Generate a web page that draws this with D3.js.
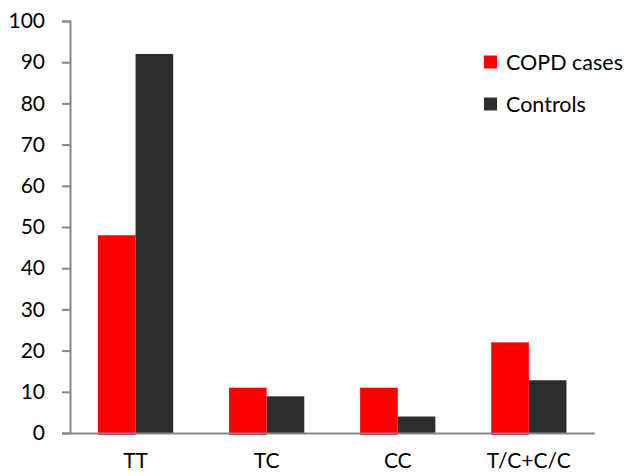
<!DOCTYPE html>
<html><head><meta charset="utf-8">
<script src="https://cdn.jsdelivr.net/npm/d3@7"></script>
<style>body{margin:0;background:#fff}svg{display:block}text{font-family:Lato,"Open Sans",sans-serif}</style>
</head><body>
<script>
const categories = ["TT", "TC", "CC", "T/C+C/C"];
const seriesNames = ["COPD cases", "Controls"];
const copdCases = [48, 11, 11, 22];
const controls = [92, 8.9, 4, 12.8];
const yTicks = [0, 10, 20, 30, 40, 50, 60, 70, 80, 90, 100];
const colors = ["#ff0000", "#2d2d2d"];

const W = 630, H = 476;
const svg = d3.select("body").append("svg").attr("width", W).attr("height", H);
const x0 = d3.scaleBand().domain(categories).range([70, 594.4]).paddingInner(0.426).paddingOuter(0.213);
const x1 = d3.scaleBand().domain(seriesNames).range([0, x0.bandwidth()]);
const y = d3.scaleLinear().domain([0, 100]).range([433, 21]);
const series = [copdCases, controls];

// bars
seriesNames.forEach((s, si) => {
  svg.append("g").selectAll("rect").data(categories).join("rect")
    .attr("x", (c) => x0(c) + x1(s))
    .attr("width", x1.bandwidth())
    .attr("y", (c, i) => y(series[si][i]))
    .attr("height", (c, i) => y(0) - y(series[si][i]) + (si === 0 ? 2 : 0))
    .attr("fill", colors[si]);
});

// y axis
const yAxis = d3.axisLeft(y).tickValues(yTicks).tickSize(8).tickPadding(17);
const gy = svg.append("g").attr("transform", "translate(70,0)").call(yAxis);
gy.select(".domain").attr("stroke", "#868686").attr("stroke-width", 2);
gy.selectAll(".tick line").attr("stroke", "#868686").attr("stroke-width", 2);
gy.selectAll(".tick text").attr("font-size", 21).attr("fill", "#000").attr("font-family", "Lato");

// x axis
const xAxis = d3.axisBottom(x0).tickSize(0).tickPadding(20);
const gx = svg.append("g").attr("transform", "translate(0,433)").call(xAxis);
gx.select(".domain").attr("stroke", "#868686").attr("stroke-width", 2);
gx.selectAll(".tick text").attr("font-size", 21).attr("fill", "#000").attr("font-family", "Lato");

// legend
const lg = svg.append("g");
seriesNames.forEach((s, i) => {
  const yy = 62 + i * 42;
  lg.append("rect").attr("x", 484).attr("y", yy - 6.5).attr("width", 13).attr("height", 13).attr("fill", colors[i]);
  lg.append("text").attr("x", 506).attr("y", yy).attr("dy", "0.35em").attr("font-size", 21.5).attr("fill", "#000").text(s);
});
</script>
</body></html>
